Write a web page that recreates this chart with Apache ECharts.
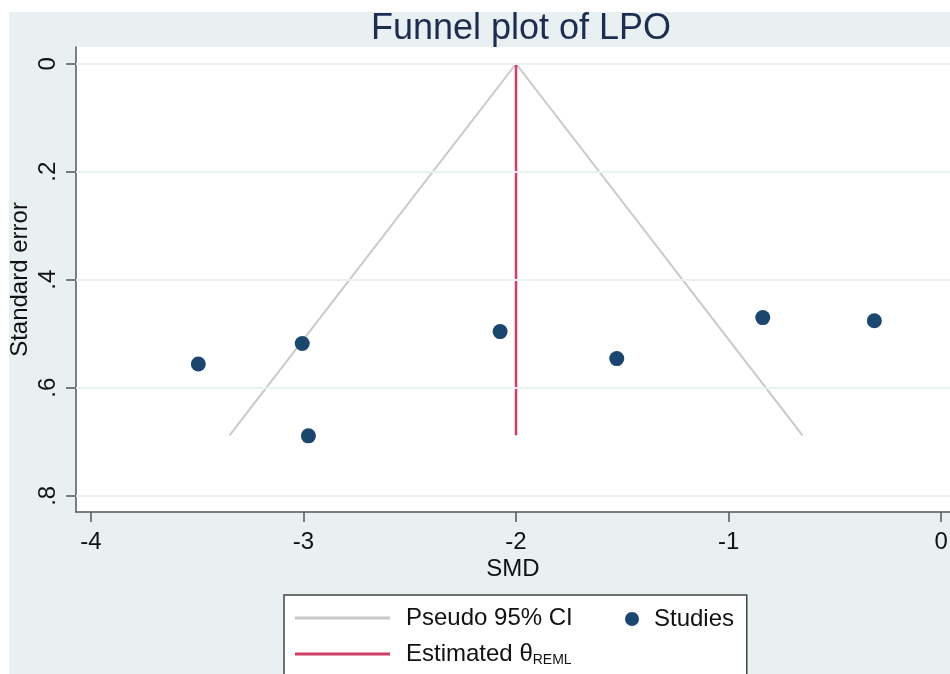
<!DOCTYPE html>
<html>
<head>
<meta charset="utf-8">
<script src="https://cdn.jsdelivr.net/npm/echarts@6/dist/echarts.min.js"></script>
<style>
  html, body { margin: 0; padding: 0; background: #fff; }
  #chart { width: 950px; height: 674px; }
</style>
</head>
<body>
<div id="chart"></div>
<script>
// study estimates
var studySmd = [-3.495, -3.006, -2.977, -2.075, -1.526, -0.839, -0.314];
var studySe = [0.556, 0.518, 0.689, 0.496, 0.546, 0.470, 0.476];

// pseudo 95% CI funnel (left foot, apex, right foot)
var funnelSmd = [-3.348, -2, -0.652];
var funnelSe = [0.688, 0, 0.688];

// REML estimate line
var thetaSmd = [-2, -2];
var thetaSe = [0, 0.688];

var xTicks = [-4, -3, -2, -1, 0];
var yTicks = [0, 0.2, 0.4, 0.6, 0.8];

var font = "Liberation Sans, Arial, sans-serif";
var thetaName = "Estimated θ";

function pairs(xs, ys) {
  var out = [];
  for (var i = 0; i < xs.length; i++) out.push([xs[i], ys[i]]);
  return out;
}

var chart = echarts.init(document.getElementById("chart"), null, { renderer: "canvas" });

var option = {
  backgroundColor: "#ffffff",
  animation: false,
  textStyle: { fontFamily: font },
  graphic: {
    elements: [
      {
        type: "rect",
        silent: true,
        z: -100,
        shape: { x: 9, y: 12, width: 941, height: 662 },
        style: { fill: "#e8f0f2" }
      }
    ]
  },
  title: {
    text: "Funnel plot of LPO",
    left: 521,
    top: 11,
    padding: 0,
    textAlign: "center",
    textStyle: { fontFamily: font, fontSize: 36, fontWeight: "normal", color: "#1c2d52" }
  },
  grid: {
    left: 76,
    right: 0,
    top: 47,
    bottom: 162,
    containLabel: false,
    outerBoundsMode: "none",
    show: true,
    backgroundColor: "#ffffff",
    borderWidth: 0
  },
  xAxis: {
    type: "value",
    min: -4.0706,
    max: 0.042,
    name: "SMD",
    nameLocation: "middle",
    nameGap: 45,
    nameMoveOverlap: false,
    nameTextStyle: { fontFamily: font, fontSize: 24, color: "#111" },
    axisLine: { show: true, onZero: false, lineStyle: { color: "#555", width: 1.5 } },
    axisTick: { show: true, length: 10, customValues: xTicks, lineStyle: { color: "#555", width: 1.5 } },
    axisLabel: {
      customValues: xTicks,
      margin: 18,
      fontFamily: font,
      fontSize: 24,
      color: "#111",
      formatter: function (v) { return String(v); }
    },
    splitLine: { show: false }
  },
  yAxis: {
    type: "value",
    inverse: true,
    min: -0.031,
    max: 0.83,
    name: "Standard error",
    nameLocation: "middle",
    nameRotate: 90,
    nameGap: 44,
    nameMoveOverlap: false,
    nameTextStyle: { fontFamily: font, fontSize: 24, color: "#111" },
    axisLine: { show: true, onZero: false, lineStyle: { color: "#555", width: 1.5 } },
    axisTick: { show: true, length: 10, customValues: yTicks, lineStyle: { color: "#555", width: 1.5 } },
    axisLabel: {
      customValues: yTicks,
      rotate: 90,
      margin: 16,
      fontFamily: font,
      fontSize: 24,
      color: "#111",
      formatter: function (v) {
        if (v === 0) return "0";
        return String(Math.round(v * 10) / 10).replace(/^0/, "");
      }
    },
    splitLine: { show: false }
  },
  legend: [
    {
      orient: "vertical",
      left: 284,
      top: 595,
      height: 90,
      padding: [11, 174, 30, 11],
      backgroundColor: "#ffffff",
      borderColor: "#444",
      borderWidth: 1.5,
      icon: "rect",
      itemWidth: 95,
      itemHeight: 3,
      itemGap: 12,
      selectedMode: false,
      z: 4,
      data: ["Pseudo 95% CI", thetaName],
      formatter: function (name) {
        if (name === thetaName) return "{a|" + name + "}{b|REML}";
        return "{a|" + name + "}";
      },
      textStyle: {
        fontFamily: font,
        fontSize: 24,
        color: "#111",
        padding: [0, 0, 0, 11],
        rich: {
          a: { fontFamily: font, fontSize: 24, lineHeight: 26, color: "#111" },
          b: { fontFamily: font, fontSize: 14, lineHeight: 14, color: "#111", verticalAlign: "bottom" }
        }
      }
    },
    {
      orient: "horizontal",
      left: 625,
      top: 607,
      padding: 0,
      itemWidth: 14,
      itemHeight: 14,
      selectedMode: false,
      z: 5,
      icon: "circle",
      data: ["Studies"],
      textStyle: { fontFamily: font, fontSize: 24, color: "#111", padding: [0, 0, 0, 10] }
    }
  ],
  series: [
    {
      name: "Pseudo 95% CI",
      type: "line",
      symbol: "none",
      silent: true,
      data: pairs(funnelSmd, funnelSe),
      lineStyle: { color: "#c9c9c9", width: 2 },
      itemStyle: { color: "#c9c9c9" },
      markLine: {
        silent: true,
        symbol: "none",
        label: { show: false },
        lineStyle: { color: "#e9f1f3", width: 2, type: "solid" },
        data: yTicks.map(function (t) { return { yAxis: t }; })
      },
      z: 2
    },
    {
      name: thetaName,
      type: "line",
      symbol: "none",
      silent: true,
      data: pairs(thetaSmd, thetaSe),
      lineStyle: { color: "#d13d64", width: 2.5 },
      itemStyle: { color: "#d13d64" },
      z: 3
    },
    {
      name: "Studies",
      type: "scatter",
      symbol: "circle",
      symbolSize: 15,
      data: pairs(studySmd, studySe),
      itemStyle: { color: "#1a476f", opacity: 1 },
      z: 4
    }
  ]
};

chart.setOption(option);
</script>
</body>
</html>
